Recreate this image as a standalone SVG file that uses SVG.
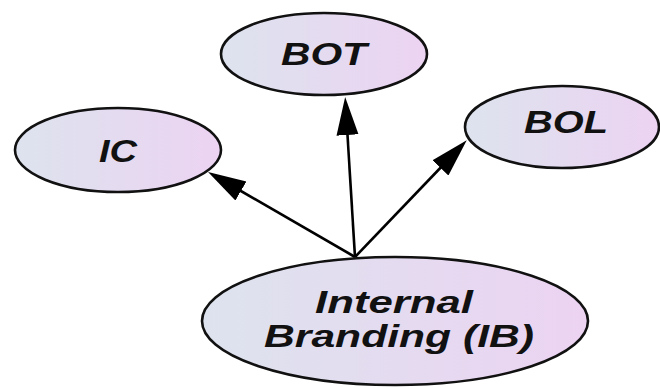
<svg xmlns="http://www.w3.org/2000/svg" width="660" height="388" viewBox="0 0 660 388">
  <defs>
    <linearGradient id="nodeFill" x1="0" y1="0" x2="1" y2="0">
      <stop offset="0" stop-color="#dde3ee"/>
      <stop offset="1" stop-color="#ecd3f2"/>
    </linearGradient>
    <marker id="arrow" markerUnits="userSpaceOnUse" markerWidth="38" markerHeight="24" viewBox="0 0 38 24" refX="8" refY="12" orient="auto">
      <path d="M0,1 L38,12 L0,23 Z" fill="#000"/>
    </marker>
  </defs>
  <style>
    .node ellipse { fill: url(#nodeFill); stroke: #111; stroke-width: 2.6; }
    .node text { font-family: "Liberation Sans", Arial, sans-serif; font-weight: bold; font-style: italic; font-size: 32px; fill: #111; text-anchor: middle; }
    .edge { stroke: #000; stroke-width: 2.6; fill: none; marker-end: url(#arrow); }
  </style>
  <rect width="660" height="388" fill="#fff"/>

  <g id="connectors">
    <line class="edge" x1="355" y1="257" x2="234" y2="187"/>
    <line class="edge" x1="355" y1="257" x2="347" y2="127"/>
    <line class="edge" x1="355" y1="257" x2="446" y2="162"/>
  </g>

  <g id="node-bot" class="node">
    <ellipse cx="324" cy="54" rx="103" ry="41"/>
    <text x="324" y="65" textLength="86" lengthAdjust="spacingAndGlyphs">BOT</text>
  </g>
  <g id="node-ic" class="node">
    <ellipse cx="118" cy="150" rx="103" ry="42"/>
    <text x="118" y="162" textLength="38" lengthAdjust="spacingAndGlyphs">IC</text>
  </g>
  <g id="node-bol" class="node">
    <ellipse cx="562" cy="127" rx="97" ry="41"/>
    <text x="566" y="133" textLength="84" lengthAdjust="spacingAndGlyphs">BOL</text>
  </g>
  <g id="node-ib" class="node">
    <ellipse cx="395" cy="321" rx="193" ry="64"/>
    <text x="394" y="313" textLength="158" lengthAdjust="spacingAndGlyphs">Internal</text>
    <text x="399" y="347" textLength="270" lengthAdjust="spacingAndGlyphs">Branding (IB)</text>
  </g>
</svg>
